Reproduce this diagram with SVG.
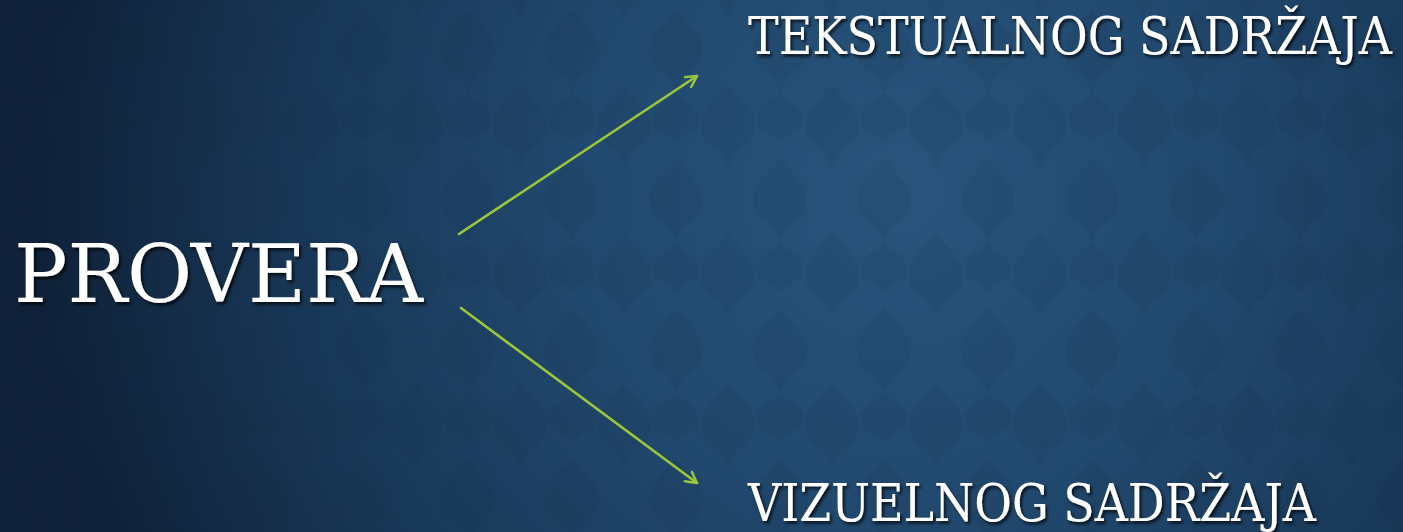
<svg xmlns="http://www.w3.org/2000/svg" width="1403" height="532" viewBox="0 0 1403 532">
  <defs>
    <radialGradient id="bg" cx="900" cy="190" r="860" gradientUnits="userSpaceOnUse">
      <stop offset="0" stop-color="#29547c"/>
      <stop offset="0.35" stop-color="#224a70"/>
      <stop offset="0.7" stop-color="#183858"/>
      <stop offset="1" stop-color="#0f2139"/>
    </radialGradient>
    <pattern id="damask" x="0" y="0" width="104" height="150" patternUnits="userSpaceOnUse">
      <g fill="#0b1f36" opacity="0.1">
        <path d="M52 8 C64 26 84 34 78 58 C74 72 62 70 56 84 L52 92 L48 84 C42 70 30 72 26 58 C20 34 40 26 52 8 Z"/>
        <path d="M52 92 C62 104 78 106 76 122 C74 132 62 130 52 142 C42 130 30 132 28 122 C26 106 42 104 52 92 Z"/>
        <path d="M0 83 C12 101 32 109 26 133 C22 147 10 145 4 159 L0 167 L-4 159 C-10 145 -22 147 -26 133 C-32 109 -12 101 0 83 Z"/>
        <path d="M104 83 C116 101 136 109 130 133 C126 147 114 145 108 159 L104 167 L100 159 C94 145 82 147 78 133 C72 109 92 101 104 83 Z"/>
        <path d="M0 -67 C12 -49 32 -41 26 -17 C22 -3 10 -5 4 9 L0 17 L-4 9 C-10 -5 -22 -3 -26 -17 C-32 -41 -12 -49 0 -67 Z"/>
        <path d="M104 -67 C116 -49 136 -41 130 -17 C126 -3 114 -5 108 9 L104 17 L100 9 C94 -5 82 -3 78 -17 C72 -41 92 -49 104 -67 Z"/>
      </g>
    </pattern>
    <filter id="shadow" x="-5%" y="-20%" width="110%" height="150%">
      <feDropShadow dx="2" dy="2.5" stdDeviation="1.5" flood-color="#000" flood-opacity="0.75"/>
    </filter>
    <marker id="arrow" viewBox="0 0 14 14" refX="12" refY="7" markerWidth="14" markerHeight="14" markerUnits="userSpaceOnUse" orient="auto">
      <path d="M1 1 L12 7 L1 13" fill="none" stroke="#9cc73a" stroke-width="2.4" stroke-linecap="round" stroke-linejoin="round"/>
    </marker>
  </defs>
  <style>
    .lbl { font-family: "DejaVu Serif", "Liberation Serif", serif; fill: #ffffff; filter: url(#shadow); }
    .conn { stroke: #9cc73a; stroke-width: 2.6; fill: none; stroke-linecap: round; marker-end: url(#arrow); }
  </style>
  <rect x="0" y="0" width="1403" height="532" fill="url(#bg)"/>
  <rect x="0" y="0" width="1403" height="532" fill="url(#damask)"/>

  <g id="connectors">
    <line class="conn" x1="459" y1="234" x2="697" y2="76"/>
    <line class="conn" x1="461" y1="308" x2="697" y2="483"/>
  </g>

  <g id="node-provera">
    <text class="lbl" x="14" y="302" font-size="80" textLength="409" lengthAdjust="spacingAndGlyphs">PROVERA</text>
  </g>
  <g id="node-tekstualnog">
    <text class="lbl" x="748" y="54" font-size="52" textLength="644" lengthAdjust="spacingAndGlyphs">TEKSTUALNOG SADRŽAJA</text>
  </g>
  <g id="node-vizuelnog">
    <text class="lbl" x="748" y="521" font-size="52" textLength="568" lengthAdjust="spacingAndGlyphs">VIZUELNOG SADRŽAJA</text>
  </g>
</svg>
